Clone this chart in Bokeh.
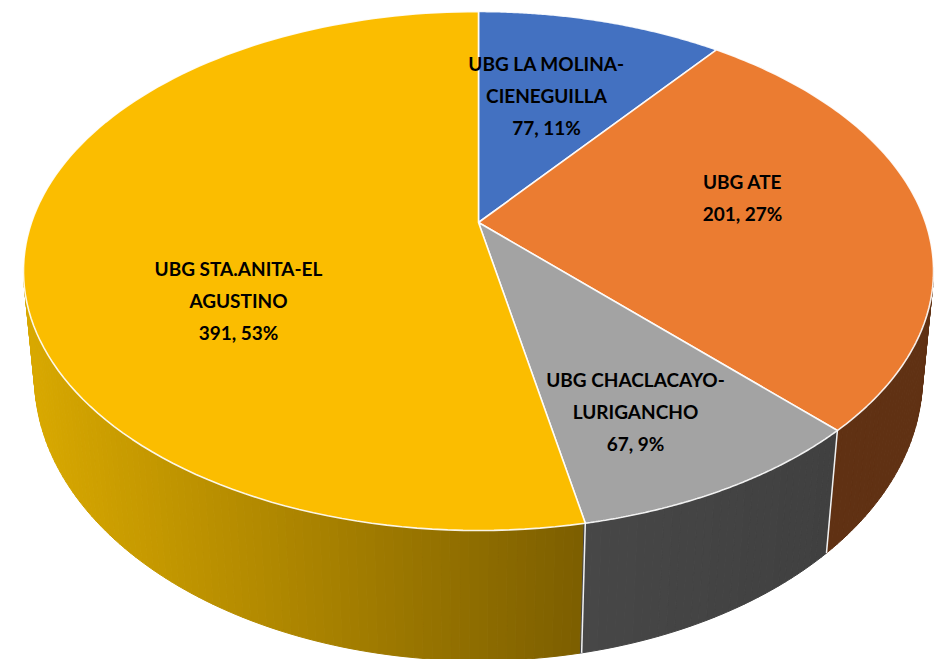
import numpy as np
from bokeh.embed import file_html
from bokeh.models import ColumnDataSource, Range1d
from bokeh.plotting import figure
from bokeh.resources import INLINE
from bokeh.core.properties import value

# ---- data -------------------------------------------------------------
names = [["UBG LA MOLINA-", "CIENEGUILLA"], ["UBG ATE"],
         ["UBG CHACLACAYO-", "LURIGANCHO"], ["UBG STA.ANITA-EL", "AGUSTINO"]]
values = [77, 201, 67, 391]
percents = ["11%", "27%", "9%", "53%"]

# ---- style ------------------------------------------------------------
top_colors = ["#4371C1", "#EB7C31", "#A3A3A3", "#FBBD00"]
wall_left = [(0x2a, 0x44, 0x75), (0x60, 0x31, 0x13), (0x47, 0x47, 0x47), (0xD8, 0xA8, 0x00)]
wall_right = [(0x2a, 0x44, 0x75), (0x60, 0x31, 0x13), (0x40, 0x40, 0x40), (0x7C, 0x5E, 0x00)]
label_x = [546, 742, 635, 238]
label_y = [63, 181, 379, 268]
line_gap = 32

# perspective discs (screen pixels): centre, half axes, foreshortening
TOP = dict(cx=478, cy=222, bx=447, ay=250.4, k=0.187)
BOT = dict(cx=478, cy=326, bx=437, ay=275.0, k=0.177)


def project(theta_deg, d):
    t = np.radians(theta_deg)
    u, v = np.sin(t), np.cos(t)
    w = 1 + d["k"] * v
    return d["cx"] + d["bx"] * u / w, d["cy"] - d["ay"] * v / w


edges = np.concatenate([[0], np.cumsum(values)]) / sum(values) * 360.0

p = figure(width=942, height=659, output_backend="svg", toolbar_location=None,
           x_range=Range1d(0, 942), y_range=Range1d(659, 0),
           min_border=0, margin=(0, 0, 0, 0),
           background_fill_color="white", border_fill_color="white")
p.axis.visible = False
p.grid.visible = False
p.outline_line_color = None

# side wall: thin strips, shaded by horizontal position
WALL_FROM, WALL_TO = 100.0, 260.0
xs, ys, cols = [], [], []
grid = np.arange(WALL_FROM, WALL_TO + 0.01, 1.0)
x_lo = 28.0
for a, b in zip(grid[:-1], grid[1:]):
    mid = (a + b) / 2
    i = int(np.searchsorted(edges, mid) - 1)
    xt0, yt0 = project(a, TOP)
    xt1, yt1 = project(b, TOP)
    xb0, yb0 = project(a, BOT)
    xb1, yb1 = project(b, BOT)
    lo = project(max(edges[i], WALL_FROM), TOP)[0]
    hi = project(min(edges[i + 1], WALL_TO), TOP)[0]
    x0, x1 = min(lo, hi), max(lo, hi)
    if i == 3:
        x0, x1 = x_lo, project(edges[3], TOP)[0]
    f = np.clip(((xt0 + xt1) / 2 - x0) / max(x1 - x0, 1), 0, 1)
    c = [int(round(l + (r - l) * f)) for l, r in zip(wall_left[i], wall_right[i])]
    xs.append([xt0, xt1, xb1, xb0])
    ys.append([yt0, yt1, yb1, yb0])
    cols.append("#%02x%02x%02x" % tuple(c))
p.patches("xs", "ys", source=ColumnDataSource(dict(xs=xs, ys=ys, c=cols)),
          fill_color="c", line_color="c", line_width=1.0)

# white seams between wall segments
for e in edges[2:4]:
    xa, ya = project(e, TOP)
    xb, yb = project(e, BOT)
    p.line([xa, xb], [ya, yb], line_color="#f2f2f2", line_width=1.5)

# top face
for i, col in enumerate(top_colors):
    ang = np.linspace(edges[i], edges[i + 1], 120)
    x, y = project(ang, TOP)
    xp = np.concatenate([[TOP["cx"]], x])
    yp = np.concatenate([[TOP["cy"]], y])
    p.patch(xp, yp, fill_color=col, line_color="white", line_width=1.6, line_alpha=0.9)

# labels
for i in range(len(values)):
    lines = names[i] + ["%d, %s" % (values[i], percents[i])]
    tx = [label_x[i]] * len(lines)
    ty = [label_y[i] + n * line_gap for n in range(len(lines))]
    p.text(tx, ty, text=lines, text_align="center", text_baseline="middle",
           text_font=value("Lato"), text_font_style="bold",
           text_font_size="19px", text_color="black")

open("out.html", "w").write(file_html(p, INLINE))
